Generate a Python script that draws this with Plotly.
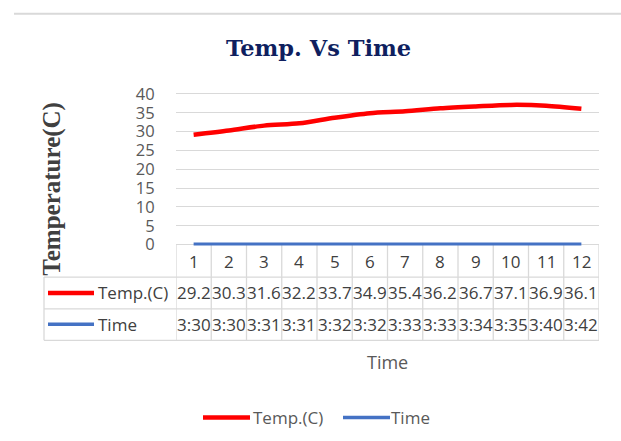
import plotly.graph_objects as go

W, H = 621, 441

categories = [str(i) for i in range(1, 13)]
temp_c = [29.2, 30.3, 31.6, 32.2, 33.7, 34.9, 35.4, 36.2, 36.7, 37.1, 36.9, 36.1]
time_labels = ["3:30", "3:30", "3:31", "3:31", "3:32", "3:32",
               "3:33", "3:33", "3:34", "3:35", "3:40", "3:42"]
# Excel stores clock times as a fraction of a day
time_values = [int(t.split(":")[0]) / 24 + int(t.split(":")[1]) / 1440 for t in time_labels]
y_ticks = [0, 5, 10, 15, 20, 25, 30, 35, 40]

cat_x = list(range(1, 13))


def py(p):
    return 1 - p / H


def px(p):
    return p / W


# layout geometry (pixels)
PL, PR = 176, 599          # plot area left/right
Y0_PIX, Y40_PIX = 245, 89  # y=0 and y=40
per = (Y0_PIX - Y40_PIX) / 40.0
ymin, ymax = -1.0, 41.0
dom_bot = py(Y0_PIX + (0 - ymin) * per)
dom_top = py(Y0_PIX - (ymax) * per)

TBL_LEFT = 44
ROW_Y = [245, 278.5, 311.5, 344]   # table horizontal boundaries
ROW_C = [262, 295, 327.5]          # row centers

GRID = "#D9D9D9"
RED = "#FF0000"
BLUE = "#4472C4"
TXT = "#404040"
TXT2 = "#595959"
SANS = "Open Sans"

fig = go.Figure()
fig.add_trace(go.Scatter(x=cat_x, y=temp_c, mode="lines", name="Temp.(C)",
                         line=dict(color=RED, width=4.5, shape="spline", smoothing=0.8),
                         showlegend=False))
fig.add_trace(go.Scatter(x=cat_x, y=time_values, mode="lines", name="Time",
                         line=dict(color=BLUE, width=3),
                         showlegend=False))

shapes = []
# top border line of chart image
shapes.append(dict(type="line", xref="paper", yref="paper", x0=px(14), x1=1, y0=py(6), y1=py(6),
                   line=dict(color="#D9D9D9", width=2)))
# table vertical lines at category boundaries
for i in range(13):
    shapes.append(dict(type="line", xref="x", yref="paper", x0=0.5 + i, x1=0.5 + i,
                       y0=py(ROW_Y[0]), y1=py(ROW_Y[3]), line=dict(color=GRID, width=1.3),
                       layer="below"))
# left border of header column
shapes.append(dict(type="line", xref="paper", yref="paper", x0=px(TBL_LEFT), x1=px(TBL_LEFT),
                   y0=py(ROW_Y[1]), y1=py(ROW_Y[3]), line=dict(color=GRID, width=1.3)))
# horizontal table lines
for yy in ROW_Y[1:]:
    shapes.append(dict(type="line", xref="paper", yref="paper", x0=px(TBL_LEFT), x1=px(PR),
                       y0=py(yy), y1=py(yy), line=dict(color=GRID, width=1.3)))
# legend keys in table
shapes.append(dict(type="line", xref="paper", yref="paper", x0=px(48), x1=px(94),
                   y0=py(ROW_C[1]), y1=py(ROW_C[1]), line=dict(color=RED, width=4.5)))
shapes.append(dict(type="line", xref="paper", yref="paper", x0=px(48), x1=px(94),
                   y0=py(ROW_C[2]), y1=py(ROW_C[2]), line=dict(color=BLUE, width=3.5)))
# bottom legend keys
LEG_Y = 424
shapes.append(dict(type="line", xref="paper", yref="paper", x0=px(203), x1=px(250),
                   y0=py(LEG_Y), y1=py(LEG_Y), line=dict(color=RED, width=4.5)))
shapes.append(dict(type="line", xref="paper", yref="paper", x0=px(343), x1=px(390),
                   y0=py(LEG_Y), y1=py(LEG_Y), line=dict(color=BLUE, width=3.5)))

annotations = []
font_tbl = dict(family=SANS, size=17, color=TXT)
for xi, c in zip(cat_x, categories):
    annotations.append(dict(x=xi, y=py(ROW_C[0]), xref="x", yref="paper", text=c,
                            showarrow=False, font=font_tbl, xanchor="center", yanchor="middle"))
for xi, v in zip(cat_x, temp_c):
    annotations.append(dict(x=xi, y=py(ROW_C[1]), xref="x", yref="paper", text=f"{v:.1f}",
                            showarrow=False, font=font_tbl, xanchor="center", yanchor="middle"))
for xi, t in zip(cat_x, time_labels):
    annotations.append(dict(x=xi, y=py(ROW_C[2]), xref="x", yref="paper", text=t,
                            showarrow=False, font=font_tbl, xanchor="center", yanchor="middle"))
# row headers
annotations.append(dict(x=px(96), y=py(ROW_C[1]), xref="paper", yref="paper", text="Temp.(C)",
                        showarrow=False, font=font_tbl, xanchor="left", yanchor="middle"))
annotations.append(dict(x=px(96), y=py(ROW_C[2]), xref="paper", yref="paper", text="Time",
                        showarrow=False, font=font_tbl, xanchor="left", yanchor="middle"))
# bottom legend text
font_leg = dict(family=SANS, size=17, color=TXT2)
annotations.append(dict(x=px(251), y=py(LEG_Y), xref="paper", yref="paper", text="Temp.(C)",
                        showarrow=False, font=font_leg, xanchor="left", yanchor="middle"))
annotations.append(dict(x=px(389), y=py(LEG_Y), xref="paper", yref="paper", text="Time",
                        showarrow=False, font=font_leg, xanchor="left", yanchor="middle"))
# x axis title
annotations.append(dict(x=px(387), y=py(366), xref="paper", yref="paper", text="Time",
                        showarrow=False, font=dict(family=SANS, size=18, color=TXT2),
                        xanchor="center", yanchor="middle"))
# y axis title
annotations.append(dict(x=px(52), y=py(187), xref="paper", yref="paper", text="<b>Temperature(C)</b>",
                        showarrow=False, textangle=-90,
                        font=dict(family="Liberation Serif", size=25, color=TXT),
                        xanchor="center", yanchor="middle"))
# chart title
annotations.append(dict(x=px(319), y=py(41), xref="paper", yref="paper", text="<b>Temp. Vs Time</b>",
                        showarrow=False,
                        font=dict(family="DejaVu Serif", size=22.5, color="#0F1F5F"),
                        xanchor="center", yanchor="middle"))

fig.update_layout(
    width=W, height=H,
    margin=dict(l=0, r=0, t=0, b=0),
    paper_bgcolor="white", plot_bgcolor="white",
    shapes=shapes, annotations=annotations,
    showlegend=False,
    xaxis=dict(domain=[px(PL), px(PR)], range=[0.5, 12.5], showgrid=False, zeroline=False,
               showticklabels=False, showline=False, fixedrange=True),
    yaxis=dict(domain=[dom_bot, dom_top], range=[ymin, ymax], tickvals=y_ticks,
               showgrid=True, gridcolor=GRID, gridwidth=1.3, zeroline=False, showline=False,
               ticks="outside", ticklen=17, tickcolor="rgba(0,0,0,0)",
               tickfont=dict(family=SANS, size=16.5, color=TXT2), fixedrange=True),
)

fig.write_html("out.html", config={"displayModeBar": False},
               post_script="document.body.style.margin='0';")
